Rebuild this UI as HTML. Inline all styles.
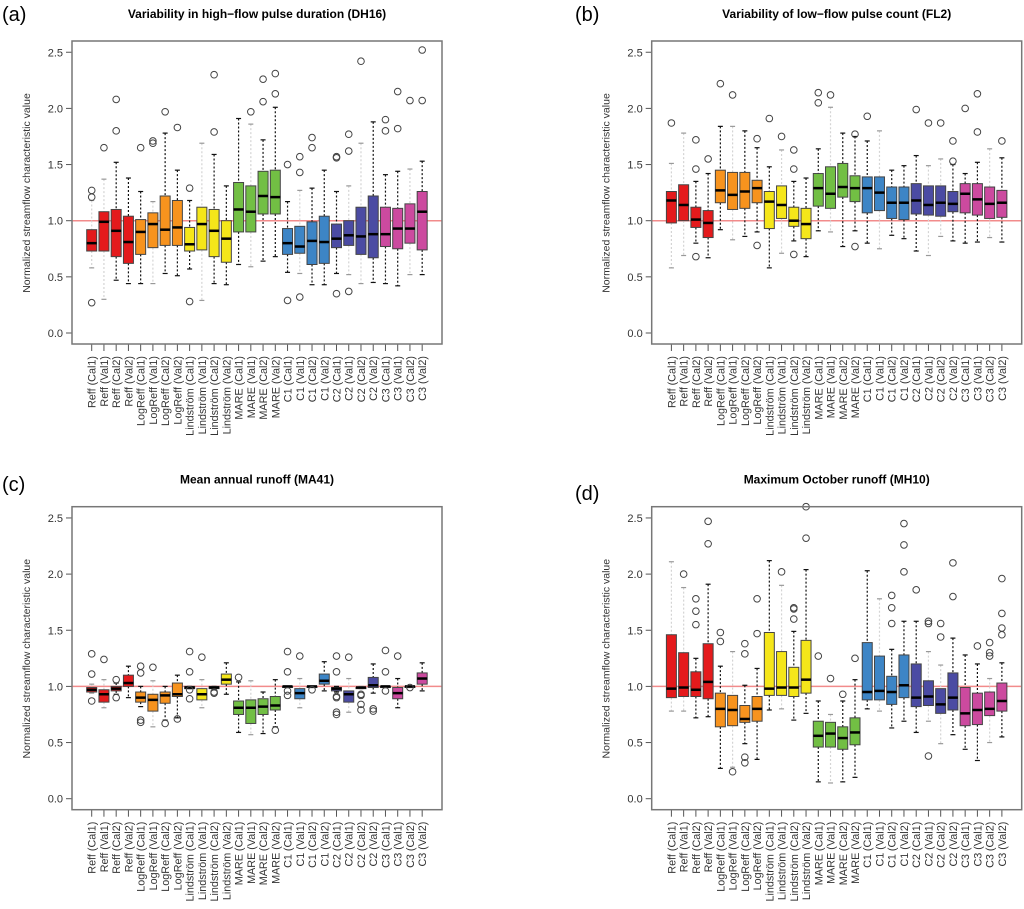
<!DOCTYPE html>
<html><head><meta charset="utf-8"><style>
html,body{margin:0;padding:0;background:#fff;width:1024px;height:909px;overflow:hidden}
svg{display:block}
text{font-family:"Liberation Sans",Arial,sans-serif}
</style></head><body>
<svg id="fig" width="1024" height="909" viewBox="0 0 1024 909" xmlns="http://www.w3.org/2000/svg"></svg>
<script>
const categories=["Reff (Cal1)","Reff (Val1)","Reff (Cal2)","Reff (Val2)","LogReff (Cal1)","LogReff (Val1)","LogReff (Cal2)","LogReff (Val2)","Lindström (Cal1)","Lindström (Val1)","Lindström (Cal2)","Lindström (Val2)","MARE (Cal1)","MARE (Val1)","MARE (Cal2)","MARE (Val2)","C1 (Cal1)","C1 (Val1)","C1 (Cal2)","C1 (Val2)","C2 (Cal1)","C2 (Val1)","C2 (Cal2)","C2 (Val2)","C3 (Cal1)","C3 (Val1)","C3 (Cal2)","C3 (Val2)"];
const yTicks=[0,0.5,1,1.5,2,2.5];
const yTickLabels=["0.0","0.5","1.0","1.5","2.0","2.5"];
// Panel a
const aQ1=[.73,.73,.68,.62,.70,.76,.78,.78,.73,.74,.68,.63,.90,.90,1.06,1.06,.70,.71,.61,.62,.76,.78,.70,.67,.77,.75,.80,.74];
const aMed=[.80,.99,.91,.81,.90,.97,.92,.94,.79,.97,.91,.84,1.10,1.08,1.22,1.21,.80,.77,.82,.81,.84,.87,.86,.88,.88,.93,.93,1.08];
const aQ3=[.92,1.08,1.10,1.04,1.01,1.07,1.22,1.18,.94,1.12,1.10,1.00,1.34,1.31,1.44,1.45,.93,.95,.99,1.04,.97,1.00,1.12,1.22,1.12,1.11,1.15,1.26];
const aLo=[.58,.30,.47,.44,.44,.44,.53,.51,.57,.29,.44,.43,.61,.59,.64,.68,.54,.53,.43,.43,.53,.52,.44,.45,.44,.42,.52,.52];
const aHi=[1.18,1.37,1.52,1.38,1.26,1.17,1.78,1.45,1.18,1.69,1.59,1.31,1.91,1.86,1.72,2.01,1.17,1.27,1.29,1.45,1.26,1.31,1.69,1.88,1.41,1.44,1.46,1.53];
const aOut=[[1.27,1.21,.27],[1.65],[1.80,2.08],[],[1.65],[1.69,1.71],[1.97],[1.83],[1.29,.28],[],[1.79,2.30],[],[],[1.97],[2.06,2.26],[2.13,2.31],[1.50,.29],[1.43,1.57,.32],[1.65,1.74],[],[1.57,1.56,.35],[1.62,1.77,.37],[2.42],[],[1.80,1.90],[1.82,2.15],[2.07],[2.07,2.52]];
const aFaint=[1,1,0,0,0,1,0,0,0,1,0,0,0,1,0,0,0,1,0,0,0,1,1,0,0,0,1,0];
// Panel b
const bQ1=[.98,1.00,.94,.85,1.16,1.10,1.11,1.16,.93,1.02,.95,.84,1.13,1.11,1.21,1.17,1.07,1.09,1.02,1.01,1.06,1.05,1.04,1.08,1.07,1.05,1.02,1.03];
const bMed=[1.18,1.14,1.01,.98,1.27,1.23,1.26,1.29,1.17,1.14,1.00,.97,1.29,1.24,1.30,1.29,1.29,1.25,1.16,1.16,1.18,1.14,1.16,1.15,1.24,1.19,1.15,1.16];
const bQ3=[1.26,1.32,1.12,1.09,1.45,1.43,1.43,1.36,1.26,1.31,1.12,1.11,1.42,1.48,1.51,1.40,1.39,1.39,1.30,1.30,1.33,1.31,1.31,1.26,1.33,1.33,1.30,1.27];
const bLo=[.58,.69,.80,.67,.92,.83,.86,.90,.58,.71,.82,.68,.91,.90,.77,.91,.80,.75,.87,.84,.73,.69,.86,.82,.80,.81,.85,.81];
const bHi=[1.51,1.78,1.35,1.42,1.84,1.84,1.80,1.65,1.48,1.63,1.35,1.38,1.64,2.01,1.78,1.75,1.71,1.80,1.45,1.49,1.58,1.49,1.55,1.50,1.42,1.52,1.64,1.56];
const bOut=[[1.87],[],[1.46,1.72,.68],[1.55],[2.22],[2.12],[],[1.73,.78],[1.91],[1.75],[1.46,1.63,.70],[],[2.05,2.14],[2.12],[],[1.77,.77],[1.93],[],[],[],[1.99],[1.87],[1.87],[1.53,1.71],[2.00],[1.79,2.13],[],[1.71]];
const bFaint=[1,1,0,0,0,1,0,0,0,1,0,0,0,1,0,0,0,1,0,0,0,1,1,0,0,0,1,0];
// Panel c
const cQ1=[.95,.86,.96,1.00,.86,.78,.85,.91,.98,.88,.98,1.02,.75,.67,.75,.79,.99,.89,.99,1.02,.96,.86,.98,.99,.99,.89,.99,1.02];
const cMed=[.97,.93,.98,1.03,.90,.88,.92,.93,.99,.93,.99,1.06,.81,.81,.82,.83,1.00,.94,1.00,1.05,.98,.93,.99,1.01,1.00,.94,1.00,1.07];
const cQ3=[.99,.97,1.00,1.10,.95,.93,.95,1.03,1.00,.98,1.00,1.11,.87,.88,.89,.91,1.00,.98,1.00,1.11,.99,.96,.99,1.08,1.00,.99,1.00,1.12];
const cLo=[.94,.81,.93,.90,.82,.64,.70,.72,.98,.81,.97,.93,.59,.57,.58,.64,.99,.81,.99,.96,.95,.77,.98,.94,.99,.81,.99,.96];
const cHi=[1.02,1.06,1.03,1.18,1.00,1.05,1.00,1.10,1.00,1.06,1.00,1.21,1.04,1.05,.95,1.06,1.00,1.07,1.00,1.22,1.00,1.07,1.00,1.20,1.00,1.07,1.00,1.21];
const cOut=[[1.29,1.11,.87],[1.24],[1.06,.90],[],[1.18,1.12,.70,.68],[1.17],[.67],[.71],[1.31,1.13,.97,.89],[1.26],[.95,.94],[],[1.08],[],[],[.61],[1.31,1.13,.96,.92],[1.27],[.97],[],[1.27,1.13,.91,.90,.77,.75],[1.26],[.93,.92,.84,.79],[.80,.78],[1.32,1.13,.96],[1.27],[.99],[]];
const cFaint=[1,1,0,0,0,1,0,0,0,1,0,0,0,1,0,0,0,1,0,0,0,1,1,0,0,0,1,0];
// Panel d
const dQ1=[.90,.91,.91,.89,.64,.65,.68,.69,.92,.92,.91,.94,.46,.46,.44,.48,.88,.88,.84,.90,.82,.83,.76,.79,.65,.66,.74,.78];
const dMed=[.98,.99,.97,1.04,.80,.79,.71,.80,.98,.99,.99,1.06,.56,.58,.54,.59,.95,.96,.95,1.01,.90,.91,.84,.90,.76,.79,.80,.87];
const dQ3=[1.46,1.30,1.13,1.38,.94,.92,.83,.91,1.48,1.31,1.17,1.41,.69,.68,.64,.72,1.39,1.27,1.09,1.28,1.20,1.05,.98,1.12,.99,.94,.95,1.03];
const dLo=[.78,.78,.72,.73,.27,.28,.49,.35,.79,.80,.70,.76,.15,.14,.15,.19,.80,.78,.63,.69,.59,.69,.49,.57,.44,.34,.50,.55];
const dHi=[2.11,1.88,1.25,1.91,1.18,1.31,1.01,1.16,2.12,1.90,1.49,2.04,.87,.75,.87,1.06,2.03,1.78,1.33,1.58,1.58,1.31,1.19,1.43,1.28,1.20,1.07,1.21];
const dOut=[[],[2.00],[1.55,1.67,1.78],[2.27,2.47],[1.40,1.48],[.24],[1.29,1.38,.37,.32],[1.47,1.78],[],[2.02],[1.60,1.69,1.70],[2.32,2.60],[1.27],[1.07],[.93],[1.25],[],[],[1.56,1.70,1.81],[2.02,2.26,2.45],[1.86],[1.56,1.58,.38],[1.44,1.56],[1.80,2.10],[],[1.36],[1.27,1.30,1.39],[1.46,1.52,1.65,1.96]];
const dFaint=[1,1,0,0,0,1,0,0,0,1,0,0,0,1,0,0,0,1,0,0,0,1,1,0,0,0,1,0];

const colors=["#e41a1c","#f7931e","#f5e61a","#72bf44","#3d85c6","#4b4ba3","#cc4a9f"];
const NS="http://www.w3.org/2000/svg";
const svg=document.getElementById('fig');
function mk(tag,attrs,parent){const e=document.createElementNS(NS,tag);for(const k in attrs)e.setAttribute(k,attrs[k]);(parent||svg).appendChild(e);return e;}

function drawPanel(name,letter,title,ox,oy,letterX,letterY,q1,med,q3,lo,hi,outs,faint){
  const g=mk('g',{});
  
  
  const fl=ox+72, fr=Math.min(ox+442,1022), ft=oy+41, fb=oy+344;
  const y0=oy+333, unit=112.3;
  const yS=v=>y0-v*unit;
  const xS=i=>fl+19.7+i*12.24;
  const L=mk('text',{x:letterX,y:letterY,'font-size':'20','fill':'#000'},g);L.textContent=letter;
  
  
  const T=mk('text',{x:ox+257,y:oy+18,'font-size':'12','font-weight':'bold','text-anchor':'middle'},g);T.textContent=title;
  
  
  const yt=mk('text',{x:0,y:0,'font-size':'10.5','fill':'#333','text-anchor':'middle',transform:`translate(${fl-42},${oy+193}) rotate(-90)`},g);yt.textContent='Normalized streamflow characteristic value';
  
  
  yTicks.forEach((v,i)=>{
    const y=yS(v);
    mk('line',{x1:fl-6,x2:fl,y1:y,y2:y,stroke:'#555','stroke-width':1},g);
    const t=mk('text',{x:fl-9,y:y+4,'font-size':'11','fill':'#333','text-anchor':'end'},g);t.textContent=yTickLabels[i];
    
    
  });
  const rl=mk('line',{x1:fl,x2:fr,y1:yS(1),y2:yS(1),stroke:'#f28b8b','stroke-width':1.5},g);
  
  
  categories.forEach((c,i)=>{
    const x=xS(i), col=colors[Math.floor(i/4)], w=5;
    const wc=faint[i]?'#d4d4d4':'#111';
    const bg=mk('g',{},g);
    
    
    mk('line',{x1:x,x2:x,y1:yS(hi[i]),y2:yS(q3[i]),stroke:wc,'stroke-width':1.2,'stroke-dasharray':'2,2'},bg);
    mk('line',{x1:x,x2:x,y1:yS(q1[i]),y2:yS(lo[i]),stroke:wc,'stroke-width':1.2,'stroke-dasharray':'2,2'},bg);
    const cc=faint[i]?'#999':'#111';
    mk('line',{x1:x-2.5,x2:x+2.5,y1:yS(hi[i]),y2:yS(hi[i]),stroke:cc,'stroke-width':1.2},bg);
    mk('line',{x1:x-2.5,x2:x+2.5,y1:yS(lo[i]),y2:yS(lo[i]),stroke:cc,'stroke-width':1.2},bg);
    mk('rect',{x:x-w,y:yS(q3[i]),width:2*w,height:Math.max(1,yS(q1[i])-yS(q3[i])),fill:col,stroke:'#444','stroke-width':1},bg);
    mk('line',{x1:x-w,x2:x+w,y1:yS(med[i]),y2:yS(med[i]),stroke:'#000','stroke-width':2.5},bg);
    outs[i].forEach(v=>{
      const o=mk('circle',{cx:x,cy:yS(v),r:3.3,fill:'none',stroke:'#444','stroke-width':1},bg);
      
      
    });
    mk('line',{x1:x,x2:x,y1:fb,y2:fb+7,stroke:'#555','stroke-width':1},g);
    const t=mk('text',{x:0,y:0,'font-size':'10.8','fill':'#333','text-anchor':'end',transform:`translate(${x+4},${fb+12}) rotate(-90)`},g);t.textContent=c;
    
    
  });
  const fr2=mk('rect',{x:fl,y:ft,width:fr-fl,height:fb-ft,fill:'none',stroke:'#777','stroke-width':1.5},g);
  
  
}
drawPanel('a','(a)','Variability in high\u2212flow pulse duration (DH16)',0,0,2,21,aQ1,aMed,aQ3,aLo,aHi,aOut,aFaint);
drawPanel('b','(b)','Variability of low\u2212flow pulse count (FL2)',579.7,0,575,21,bQ1,bMed,bQ3,bLo,bHi,bOut,bFaint);
drawPanel('c','(c)','Mean annual runoff (MA41)',0,465.7,2,491,cQ1,cMed,cQ3,cLo,cHi,cOut,cFaint);
drawPanel('d','(d)','Maximum October runoff (MH10)',579.7,465.7,575,500,dQ1,dMed,dQ3,dLo,dHi,dOut,dFaint);
</script>
</body></html>
